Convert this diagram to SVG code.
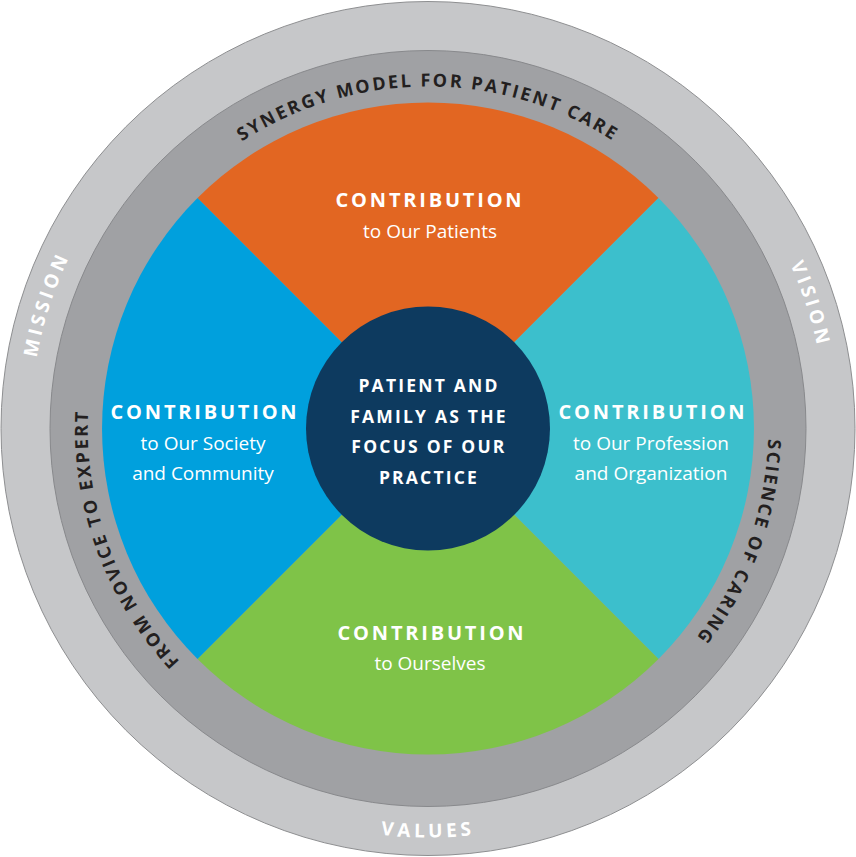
<svg xmlns="http://www.w3.org/2000/svg" width="856" height="857" viewBox="0 0 856 857">
<style>
.arcDark{font-family:"Open Sans","Liberation Sans",sans-serif;font-weight:700;font-size:18px;fill:#231F20;letter-spacing:2.35px}
.arcLight{font-family:"Open Sans","Liberation Sans",sans-serif;font-weight:700;font-size:19px;fill:#FFFFFF;letter-spacing:3.8px}
.head{font-family:"Open Sans","Liberation Sans",sans-serif;font-weight:700;font-size:20px;fill:#FFFFFF;letter-spacing:2.8px;text-anchor:middle}
.sub{font-family:"Open Sans","Liberation Sans",sans-serif;font-weight:400;font-size:19px;fill:#FFFFFF;text-anchor:middle}
.ctr{font-family:"Open Sans","Liberation Sans",sans-serif;font-weight:700;font-size:17.5px;fill:#FFFFFF;letter-spacing:2.2px;text-anchor:middle}
</style>
<defs>
<path id="pSynergy" d="M86,428.5 A342,342 0 0 1 770,428.5"/>
<path id="pScience" d="M544.97,107.13 A342,342 0 0 1 311.03,749.87"/>
<path id="pNovice" d="M544.97,749.87 A342,342 0 0 1 311.03,107.13"/>
<path id="pVision" d="M305.01,49.98 A398,398 0 0 1 550.99,807.02"/>
<path id="pMission" d="M305.01,807.02 A398,398 0 0 1 550.99,49.98"/>
<path id="pValues" d="M19,428.5 A409,409 0 0 0 837,428.5"/>
</defs>
<g id="outer-ring">
<circle cx="428" cy="428.5" r="427" fill="#C6C7C9" stroke="#8E8F91" stroke-width="1"/>
<text class="arcLight"><textPath href="#pVision" startOffset="50%" text-anchor="middle">VISION</textPath></text>
<text class="arcLight"><textPath href="#pMission" startOffset="50%" text-anchor="middle">MISSION</textPath></text>
<text class="arcLight"><textPath href="#pValues" startOffset="50%" text-anchor="middle">VALUES</textPath></text>
</g>
<g id="inner-ring">
<circle cx="428" cy="428.5" r="378" fill="#A0A1A4" stroke="#88898C" stroke-width="1"/>
<text class="arcDark"><textPath href="#pSynergy" startOffset="50%" text-anchor="middle">SYNERGY MODEL FOR PATIENT CARE</textPath></text>
<text class="arcDark"><textPath href="#pScience" startOffset="50%" text-anchor="middle">SCIENCE OF CARING</textPath></text>
<text class="arcDark"><textPath href="#pNovice" startOffset="50%" text-anchor="middle">FROM NOVICE TO EXPERT</textPath></text>
</g>
<g id="patients">
<path d="M428,428.5 L197.5,198 A326,326 0 0 1 658.5,198 Z" fill="#E26622"/>
<text class="head" x="430" y="207">CONTRIBUTION</text>
<text class="sub" x="430" y="238">to Our Patients</text>
</g>
<g id="profession">
<path d="M428,428.5 L658.5,198 A326,326 0 0 1 658.5,659 Z" fill="#3CBFCC"/>
<text class="head" x="653" y="419">CONTRIBUTION</text>
<text class="sub" x="651" y="450">to Our Profession</text>
<text class="sub" x="651" y="480">and Organization</text>
</g>
<g id="ourselves">
<path d="M428,428.5 L658.5,659 A326,326 0 0 1 197.5,659 Z" fill="#7FC348"/>
<text class="head" x="432" y="640">CONTRIBUTION</text>
<text class="sub" x="430" y="670">to Ourselves</text>
</g>
<g id="society">
<path d="M428,428.5 L197.5,659 A326,326 0 0 1 197.5,198 Z" fill="#00A0DD"/>
<text class="head" x="205" y="419">CONTRIBUTION</text>
<text class="sub" x="203" y="450">to Our Society</text>
<text class="sub" x="203" y="480">and Community</text>
</g>
<g id="center">
<circle cx="428" cy="428.5" r="122" fill="#0D3A5F"/>
<text class="ctr" x="429" y="392">PATIENT AND</text>
<text class="ctr" x="429" y="423">FAMILY AS THE</text>
<text class="ctr" x="429" y="453">FOCUS OF OUR</text>
<text class="ctr" x="429" y="484">PRACTICE</text>
</g>
</svg>
